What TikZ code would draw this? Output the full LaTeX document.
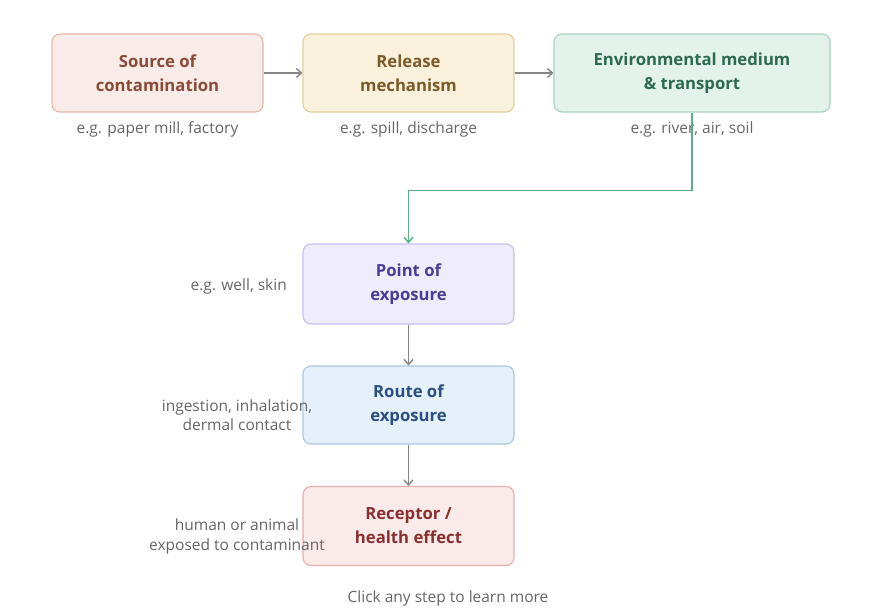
\documentclass[tikz,border=0pt]{standalone}
\usepackage{fontspec}
\setmainfont{Open Sans}
\usetikzlibrary{arrows.meta}
\definecolor{srcF}{HTML}{F9ECE8}\definecolor{srcD}{HTML}{E3B8AC}\definecolor{srcT}{HTML}{8A4A3A}
\definecolor{relF}{HTML}{FAF1DD}\definecolor{relD}{HTML}{E4CD98}\definecolor{relT}{HTML}{7A5A28}
\definecolor{envF}{HTML}{E3F3EC}\definecolor{envD}{HTML}{A6D4BF}\definecolor{envT}{HTML}{2E6A4F}
\definecolor{poeF}{HTML}{EFEDFB}\definecolor{poeD}{HTML}{C6BFEE}\definecolor{poeT}{HTML}{4A3D95}
\definecolor{roeF}{HTML}{E6F0FA}\definecolor{roeD}{HTML}{A9C7E7}\definecolor{roeT}{HTML}{2B4F80}
\definecolor{recF}{HTML}{FBEAEA}\definecolor{recD}{HTML}{E3AEAE}\definecolor{recT}{HTML}{8A3030}
\definecolor{lbl}{HTML}{666666}
\definecolor{arr}{HTML}{858585}
\definecolor{grn}{HTML}{5BAE8A}
\begin{document}
\begin{tikzpicture}[x=1pt,y=-1pt,
  stepbox/.style={draw, line width=1.1pt, rounded corners=8pt, minimum height=78pt,
    minimum width=211pt, inner sep=0pt, align=center, font=\fontsize{16.7}{24}\selectfont\bfseries},
  note/.style={text=lbl, font=\fontsize{15.5}{19.5}\selectfont, inner sep=0pt, align=center},
  flow/.style={draw=arr, line width=1.4pt, -{Straight Barb[length=5pt,width=9pt,line width=1.4pt]}},
  gflow/.style={draw=grn, line width=1.5pt, -{Straight Barb[length=5pt,width=9pt,line width=1.5pt]}}]
\useasboundingbox (0,0) rectangle (878,614);
\node[stepbox, fill=srcF, draw=srcD, text=srcT] (src) at (157.5,73) {Source of\\contamination};
\node[stepbox, fill=relF, draw=relD, text=relT] (rel) at (408.5,73) {Release\\mechanism};
\node[stepbox, fill=envF, draw=envD, text=envT, minimum width=276pt] (env) at (692,73) {Environmental medium\\\& transport};
\node[stepbox, fill=poeF, draw=poeD, text=poeT, minimum height=80pt] (poe) at (408.5,284) {Point of\\exposure};
\node[stepbox, fill=roeF, draw=roeD, text=roeT] (roe) at (408.5,405) {Route of\\exposure};
\node[stepbox, fill=recF, draw=recD, text=recT, minimum height=79pt] (rec) at (408.5,526) {Receptor /\\health effect};

\node[note] (nsrc) at (157.5,129) {e.g. paper mill, factory};
\node[note] (nrel) at (408.5,129) {e.g. spill, discharge};
\node[note] (nenv) at (692,129) {e.g. river, air, soil};
\node[note, anchor=east] (npoe) at (287,286) {e.g. well, skin};
\node[note] (nroe) at (237,415) {ingestion, inhalation,\\dermal contact};
\node[note] (nrec) at (237,536.5) {human or animal\\exposed to contaminant};
\node[note] (click) at (448,598) {Click any step to learn more};

\draw[flow] (src) -- (rel);
\draw[flow] (rel) -- (env);
\draw[gflow] (env.south) -- ++(0,78) -| (poe.north);
\draw[flow] (poe) -- (roe);
\draw[flow] (roe) -- (rec);
\end{tikzpicture}
\end{document}
